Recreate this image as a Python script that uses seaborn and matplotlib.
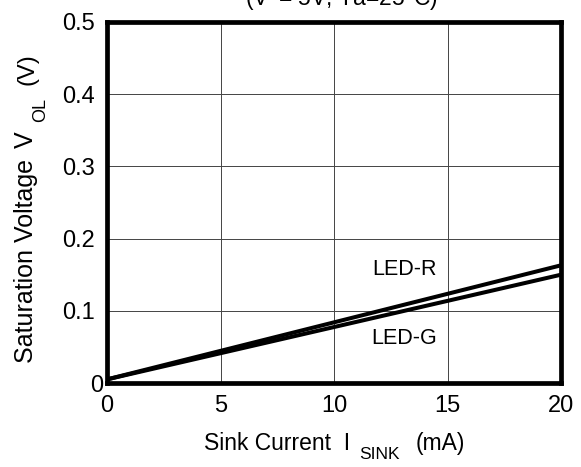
import matplotlib
matplotlib.use("Agg")
import matplotlib.pyplot as plt
import matplotlib.transforms as mtransforms
import seaborn as sns
import pandas as pd

# Data
sink_current = [0, 20]
led_r = [0.005, 0.163]
led_g = [0.005, 0.150]
x_ticks = [0, 5, 10, 15, 20]
y_ticks = [0, 0.1, 0.2, 0.3, 0.4, 0.5]
y_tick_labels = ["0", "0.1", "0.2", "0.3", "0.4", "0.5"]

sns.set_theme(style="white")
plt.rcParams['font.family'] = ['Liberation Sans', 'DejaVu Sans']
plt.rcParams['mathtext.fontset'] = 'custom'
plt.rcParams['mathtext.rm'] = 'Liberation Sans'
plt.rcParams['mathtext.it'] = 'Liberation Sans'

W, H = 581, 467
df = pd.DataFrame({
    "I": sink_current * 2,
    "V": led_r + led_g,
    "series": ["LED-R"] * len(sink_current) + ["LED-G"] * len(sink_current),
})

fig = plt.figure(figsize=(W / 100, H / 100), dpi=100)
ax = fig.add_axes([107 / W, 1 - 383 / H, (561 - 107) / W, (383 - 22) / H])

sns.lineplot(data=df, x="I", y="V", units="series", estimator=None,
             color="black", linewidth=2.9, ax=ax, legend=False)

ax.set_xlim(0, 20)
ax.set_ylim(0, 0.5)
ax.set_xticks(x_ticks)
ax.set_yticks(y_ticks)
ax.set_yticklabels(y_tick_labels)
ax.tick_params(axis="both", length=0, labelsize=17, colors="black")
ax.tick_params(axis="y", pad=8.5)
ax.tick_params(axis="x", pad=9)
ax.grid(True, color="#444444", linewidth=0.7)
for s in ax.spines.values():
    s.set_linewidth(3.4)
    s.set_color("black")
ax.set_xlabel("")
ax.set_ylabel("")

# shift the y "0" label toward the axis, as in the reference
lbl0 = ax.get_yticklabels()[0]
lbl0.set_transform(lbl0.get_transform() + mtransforms.ScaledTranslation(8 / 100, 0, fig.dpi_scale_trans))

def px(x, y):
    return x / W, 1 - y / H

# x-axis label with subscript
fig.text(*px(204, 450), "Sink Current  I", fontsize=16.5, ha="left", va="baseline", color="black")
fig.text(*px(359, 459), "SINK", fontsize=12.5, ha="left", va="baseline", color="black")
fig.text(*px(416, 450), "(mA)", fontsize=16.5, ha="left", va="baseline", color="black")

# y-axis label with subscript (rotated)
kw = dict(rotation=90, rotation_mode="anchor", ha="left", va="baseline", color="black")
fig.text(*px(33, 363), "Saturation Voltage", fontsize=18, **kw)
fig.text(*px(33, 148), "V", fontsize=18, **kw)
fig.text(*px(45, 122), "OL", fontsize=13, **kw)
fig.text(*px(33, 85), "(V)", fontsize=17, **kw)

ax.text(13.1, 0.157, "LED-R", fontsize=15.5, ha="center", va="center", color="black")
ax.text(13.1, 0.061, "LED-G", fontsize=15.5, ha="center", va="center", color="black")

fig.text(*px(341, 6), "(V$^{+}$= 5V, Ta=25°C)", fontsize=16.5, ha="center", va="baseline", color="black")

fig.savefig("out.png", dpi=100)
